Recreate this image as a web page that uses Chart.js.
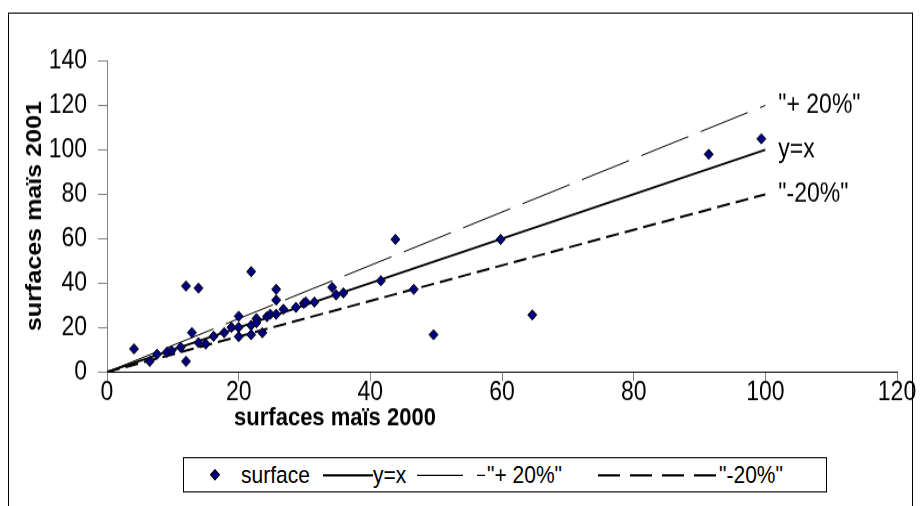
<!DOCTYPE html>
<html>
<head>
<meta charset="utf-8">
<script src="https://cdn.jsdelivr.net/npm/chart.js@4.4.0/dist/chart.umd.min.js"></script>
<style>
  html, body { margin: 0; padding: 0; background: #fff; overflow: hidden; }
  #stage { position: absolute; left: 0; top: 0; width: 920px; height: 444px; transform: scaleY(1.14); transform-origin: 0 0; }
  #frame { position: absolute; left: 8px; top: 11px; width: 903px; height: 470px; border: 1px solid #000; }
  #chart { position: absolute; left: 0; top: 0; }
  #legend { position: absolute; left: 183px; top: 401px; width: 642px; height: 29px; border: 1px solid #000; background: #fff;
            font-family: Arial, "Liberation Sans", sans-serif; font-size: 21px; color: #000; }
  #legend .it { position: absolute; top: 0; height: 29px; line-height: 29px; white-space: nowrap; }
  #legend svg { position: absolute; top: 0; }
</style>
</head>
<body>
<div id="stage">
  <div id="frame"></div>
  <canvas id="chart" width="920" height="444" style="width:920px;height:444px"></canvas>
  <div id="legend"></div>
</div>
<script>
// surfaces maïs
const surf2000 = [4.1, 6.5, 7.6, 9.1, 9.8, 11.2, 12.0, 12.0, 12.9, 13.9, 13.9, 15.0, 16.2, 17.8, 18.9,
  20.0, 20.0, 20.0, 21.9, 21.9, 21.9, 22.7, 22.7, 23.6, 24.3, 24.8, 25.7, 25.7, 25.7, 26.8, 28.7,
  29.9, 30.2, 31.5, 34.2, 34.8, 35.9, 41.6, 43.8, 46.6, 49.6, 59.8, 64.6, 91.4, 99.4];
const surf2001 = [10.4, 4.8, 8.0, 8.9, 9.6, 11.1, 38.7, 4.8, 17.7, 37.8, 13.2, 12.6, 16.1, 17.7, 20.1,
  25.1, 20.1, 15.9, 45.2, 21.0, 16.8, 24.0, 22.2, 17.7, 24.9, 26.0, 26.0, 32.4, 37.2, 28.2, 29.1,
  30.9, 31.5, 31.5, 38.1, 34.7, 35.6, 41.1, 59.7, 37.2, 16.8, 59.7, 25.7, 98.0, 105.0];

// reference lines
const lineX = [0, 100];
const lineEqual = [0, 100];
const linePlus20 = [0, 120];
const lineMinus20 = [0, 80];

const xTicks = [0, 20, 40, 60, 80, 100, 120];
const yTicks = [0, 20, 40, 60, 80, 100, 120, 140];

const seriesNames = ['surface', 'y=x', '"+ 20%"', '"-20%"'];
const X_TITLE = 'surfaces maïs 2000';
const Y_TITLE = 'surfaces maïs 2001';

const FONT = 'Arial, "Liberation Sans", sans-serif';

function toPoints(xs, ys) {
  return xs.map((x, i) => ({ x, y: ys[i] }));
}

const lineStyles = [
  { data: lineEqual, color: '#000', width: 1.8, dash: [] },
  { data: linePlus20, color: '#000', width: 1, dash: [50, 13] },
  { data: lineMinus20, color: '#000', width: 2, dash: [13, 6] },
];

const textPlugin = {
  id: 'freeText',
  afterDraw(chart) {
    const { ctx, scales } = chart;
    ctx.save();
    ctx.fillStyle = '#000';
    ctx.font = 'bold 22px ' + FONT;
    ctx.textAlign = 'center';
    ctx.textBaseline = 'middle';
    ctx.fillText(X_TITLE, 335, 367);
    ctx.save();
    ctx.translate(35, 189.5);
    ctx.rotate(-Math.PI / 2);
    ctx.fillText(Y_TITLE, 0, 0);
    ctx.restore();

    // labels at the end of each reference line
    ctx.font = '23px ' + FONT;
    ctx.textAlign = 'left';
    const xEnd = scales.x.getPixelForValue(lineX[lineX.length - 1]) + 13;
    [linePlus20, lineEqual, lineMinus20].forEach((ys, i) => {
      const name = [seriesNames[2], seriesNames[1], seriesNames[3]][i];
      ctx.fillText(name, xEnd, scales.y.getPixelForValue(ys[ys.length - 1]));
    });
    ctx.restore();
  }
};

new Chart(document.getElementById('chart'), {
  type: 'scatter',
  data: {
    datasets: [
      {
        label: seriesNames[0],
        data: toPoints(surf2000, surf2001),
        pointStyle: 'rectRot',
        pointRadius: 4.5,
        pointBackgroundColor: '#000080',
        pointBorderColor: '#000',
        pointBorderWidth: 1,
        showLine: false,
        order: 0,
      },
      ...lineStyles.map((s, i) => ({
        label: seriesNames[i + 1],
        data: toPoints(lineX, s.data),
        showLine: true,
        borderColor: s.color,
        borderWidth: s.width,
        borderDash: s.dash,
        pointRadius: 0,
        fill: false,
        order: 1,
      })),
    ],
  },
  options: {
    responsive: false,
    animation: false,
    devicePixelRatio: 1,
    layout: { padding: { top: 53.5, right: 23, left: 0, bottom: 0 } },
    plugins: { legend: { display: false }, tooltip: { enabled: false } },
    scales: {
      x: {
        type: 'linear',
        min: 0, max: 120,
        afterFit(scale) { scale.height = 444 - 326.3; },
        afterBuildTicks(scale) { scale.ticks = xTicks.map(v => ({ value: v })); },
        ticks: { color: '#000', font: { family: FONT, size: 23 }, padding: -3 },
        grid: { drawOnChartArea: false, drawTicks: true, tickLength: 8, color: '#808080' },
        border: { display: true, color: '#000', width: 1 },
      },
      y: {
        type: 'linear',
        min: 0, max: 140,
        afterFit(scale) { scale.width = 107; },
        afterBuildTicks(scale) { scale.ticks = yTicks.map(v => ({ value: v })); },
        ticks: { color: '#000', font: { family: FONT, size: 23 }, padding: 11 },
        grid: { drawOnChartArea: false, drawTicks: true, tickLength: 9, color: '#808080' },
        border: { display: true, color: '#808080', width: 1 },
      },
    },
  },
  plugins: [textPlugin],
});

// legend below the chart
const legend = document.getElementById('legend');
const L = 183;
function addText(txt, left) {
  const d = document.createElement('div');
  d.className = 'it';
  d.style.left = (left - L) + 'px';
  d.textContent = txt;
  legend.appendChild(d);
}
function addSvg(left, width, inner) {
  const ns = 'http://www.w3.org/2000/svg';
  const svg = document.createElementNS(ns, 'svg');
  svg.setAttribute('width', width);
  svg.setAttribute('height', 29);
  svg.style.left = (left - L) + 'px';
  svg.innerHTML = inner;
  legend.appendChild(svg);
}
addSvg(207, 14, '<polygon points="7,10 11.5,14.5 7,19 2.5,14.5" fill="#000080" stroke="#000" stroke-width="1"/>');
addText(seriesNames[0], 240);
addSvg(322, 50, '<line x1="0" y1="15" x2="50" y2="15" stroke="#000" stroke-width="1.8"/>');
addText(seriesNames[1], 372);
addSvg(416, 70, '<line x1="0" y1="15" x2="68" y2="15" stroke="#000" stroke-width="1" stroke-dasharray="46,14"/>');
addText(seriesNames[2], 486);
addSvg(597, 120, '<line x1="0" y1="15" x2="118" y2="15" stroke="#000" stroke-width="2" stroke-dasharray="22,10"/>');
addText(seriesNames[3], 718);
</script>
</body>
</html>
